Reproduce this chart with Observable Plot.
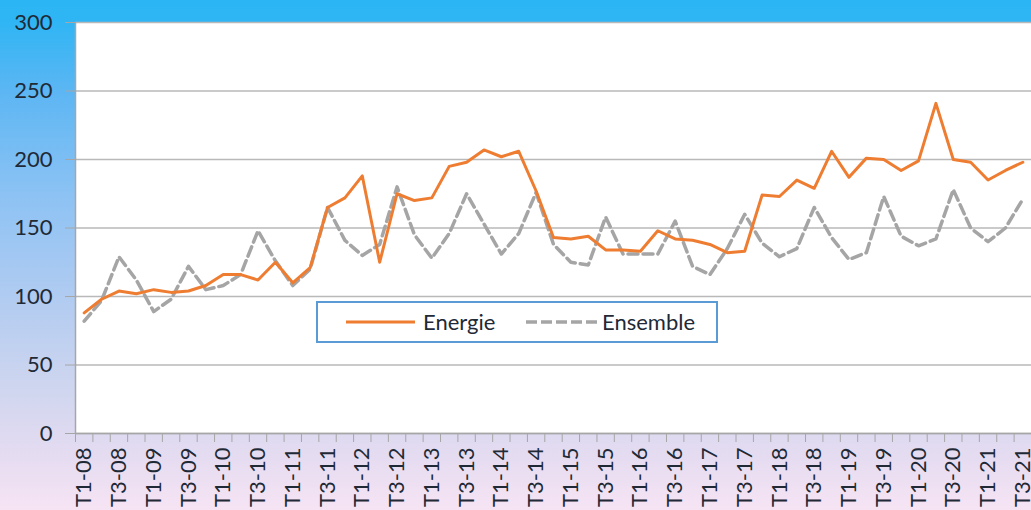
<!DOCTYPE html>
<html>
<head>
<meta charset="utf-8">
<script src="https://cdn.jsdelivr.net/npm/d3@7"></script>
<script src="https://cdn.jsdelivr.net/npm/@observablehq/plot@0.6"></script>
<style>
  html, body { margin: 0; padding: 0; }
  body {
    width: 1031px; height: 510px; overflow: hidden; position: relative;
    background: linear-gradient(to bottom, #2bb5f4 0%, #2fb5f4 4%, #5cb6f3 18%, #8cc2f4 38%, #b0cbf1 58%, #cdd5ef 75%, #e6dcf1 90%, #f6e4f4 100%);
    font-family: Lato, "Open Sans", sans-serif;
  }
  #chart { position: absolute; left: 0; top: 0; }
  #legend {
    position: absolute; left: 316px; top: 301px; width: 398px; height: 38px;
    border: 2px solid #5b9bd5; background: #ffffff; box-sizing: content-box;
    font-family: Lato, "Open Sans", sans-serif; font-size: 22px; color: #1f2a36;
  }
  #legend svg { position: absolute; left: 0; top: 0; }
</style>
</head>
<body>
<div id="chart"></div>
<div id="legend"></div>
<script>
// Categories (quarters)
const years = ["08","09","10","11","12","13","14","15","16","17","18","19","20","21"];
const quarters = years.flatMap(y => ["T1","T2","T3","T4"].map(q => `${q}-${y}`)).slice(0, 55);

// Series values
const energie = [88, 98, 104, 102, 105, 103, 104, 108, 116, 116,
                 112, 125, 110, 121, 165, 172, 188, 125, 175, 170,
                 172, 195, 198, 207, 202, 206, 177, 143, 142, 144,
                 134, 134, 133, 148, 142, 141, 138, 132, 133, 174,
                 173, 185, 179, 206, 187, 201, 200, 192, 199, 241,
                 200, 198, 185, 192, 198];
const ensemble = [82, 97, 129, 112, 89, 98, 122, 105, 108, 116,
                  148, 126, 108, 120, 165, 141, 130, 138, 180, 145,
                  128, 146, 175, 153, 131, 146, 176, 138, 125, 123,
                  158, 131, 131, 131, 155, 122, 116, 135, 160, 139,
                  129, 135, 165, 143, 127, 132, 173, 144, 137, 142,
                  178, 150, 140, 150, 171];

const yTicks = [0, 50, 100, 150, 200, 250, 300];
const seriesNames = ["Energie", "Ensemble"];

const rowsE = quarters.map((q, i) => ({i: i + 0.5, q, v: energie[i]}));
const rowsS = quarters.map((q, i) => ({i: i + 0.5, q, v: ensemble[i]}));
const labelPos = quarters.map((q, i) => i).filter(i => i % 2 === 0).map(i => i + 0.5);
const boundaries = d3.range(0, quarters.length + 1);

const axisColor = "#a6a6a6";
const textColor = "#1f2a36";

const chart = Plot.plot({
  width: 1031,
  height: 510,
  marginLeft: 75,
  marginRight: 0,
  marginTop: 22,
  marginBottom: 77,
  style: {background: "transparent", fontFamily: "Lato, 'Open Sans', sans-serif", fontSize: "22px", color: textColor, overflow: "visible"},
  x: {domain: [0, quarters.length], axis: null},
  y: {domain: [0, 300], axis: null},
  marks: [
    Plot.rect([{}], {x1: 0, x2: quarters.length, y1: 0, y2: 300, fill: "#ffffff"}),
    Plot.gridY(yTicks, {stroke: "#b9b9b9", strokeOpacity: 1, strokeWidth: 1.6}),
    Plot.ruleX([0], {stroke: axisColor, strokeWidth: 1.5}),
    Plot.ruleY([0], {stroke: axisColor, strokeWidth: 1.5}),
    Plot.axisY(yTicks, {label: null, tickSize: 10, tickPadding: 13, stroke: axisColor, fontSize: 22, fill: textColor}),
    Plot.axisX(boundaries, {label: null, tickSize: 9, tickFormat: () => "", stroke: axisColor}),
    Plot.axisX(labelPos, {label: null, tickSize: 0, tickPadding: 14, tickRotate: -90, fontSize: 22, fill: textColor,
      tickFormat: d => quarters[Math.round(d - 0.5)]}),
    Plot.line(rowsS, {x: "i", y: "v", stroke: "#a5a5a5", strokeWidth: 3.5, strokeDasharray: "10,5", strokeLinejoin: "round"}),
    Plot.line(rowsE, {x: "i", y: "v", stroke: "#ee7d31", strokeWidth: 3, strokeLinejoin: "round"})
  ]
});
document.getElementById("chart").appendChild(chart);

// Legend
const legend = document.getElementById("legend");
const ns = "http://www.w3.org/2000/svg";
const lsvg = document.createElementNS(ns, "svg");
lsvg.setAttribute("width", 398);
lsvg.setAttribute("height", 38);
const items = [
  {name: seriesNames[0], x1: 28, x2: 97, tx: 105, stroke: "#ee7d31", dash: null, w: 3},
  {name: seriesNames[1], x1: 208, x2: 281, tx: 284, stroke: "#a5a5a5", dash: "11,4", w: 3.5}
];
for (const it of items) {
  const l = document.createElementNS(ns, "line");
  l.setAttribute("x1", it.x1); l.setAttribute("x2", it.x2);
  l.setAttribute("y1", 19); l.setAttribute("y2", 19);
  l.setAttribute("stroke", it.stroke); l.setAttribute("stroke-width", it.w);
  if (it.dash) l.setAttribute("stroke-dasharray", it.dash);
  lsvg.appendChild(l);
  const t = document.createElementNS(ns, "text");
  t.setAttribute("x", it.tx); t.setAttribute("y", 19);
  t.setAttribute("dy", "0.35em");
  t.setAttribute("fill", textColor);
  t.setAttribute("font-size", 22);
  t.setAttribute("font-family", "Lato, 'Open Sans', sans-serif");
  t.textContent = it.name;
  lsvg.appendChild(t);
}
legend.appendChild(lsvg);
</script>
</body>
</html>
